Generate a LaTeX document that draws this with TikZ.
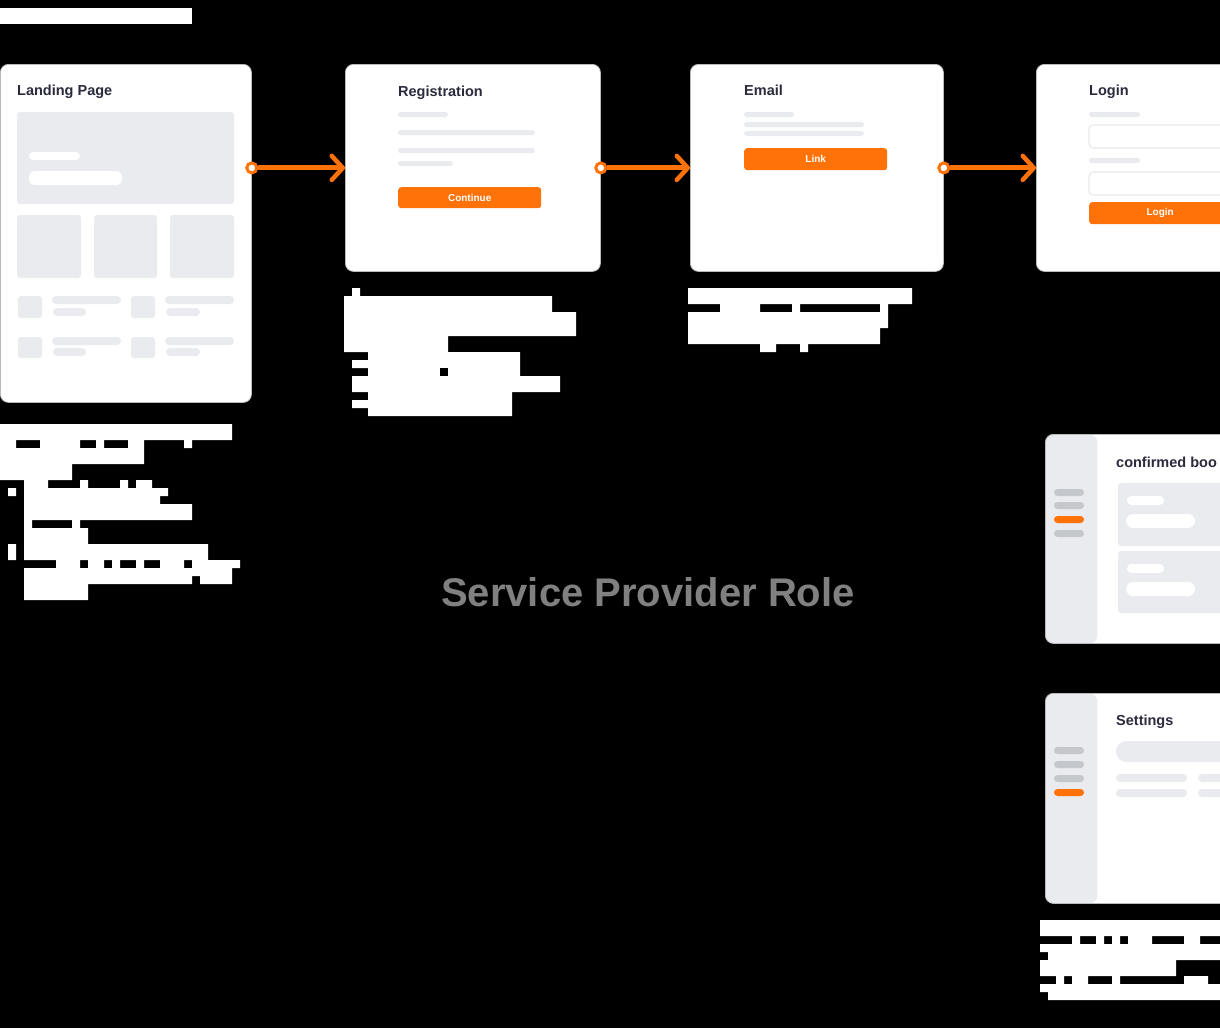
\documentclass[tikz,border=0pt]{standalone}
\usepackage{fontspec}
\setmainfont{Liberation Sans}
\usetikzlibrary{arrows.meta, positioning}
\definecolor{brand}{RGB}{255,114,8}
\definecolor{skel}{RGB}{233,235,239}
\definecolor{pillgray}{RGB}{196,199,204}
\definecolor{ink}{RGB}{43,43,61}
\definecolor{rolegray}{RGB}{128,128,128}
\tikzset{
  card/.style={rectangle, rounded corners=8pt, fill=white, draw=gray!55, line width=0.8pt, anchor=north west, inner sep=0pt},
  panel/.style={card, path picture={\fill[skel] (path picture bounding box.north west) rectangle ([xshift=52pt]path picture bounding box.south west);}},
  heading/.style={anchor=base west, inner sep=0pt, text=ink, font=\fontsize{14.5}{16}\selectfont\bfseries},
  skeleton/.style={fill=skel, rounded corners=3pt},
  bar/.style={fill=skel, rounded corners=2.5pt},
  button/.style={rectangle, rounded corners=3pt, fill=brand, text=white, font=\fontsize{10}{12}\selectfont\bfseries, anchor=north west, inner sep=0pt},
  field/.style={draw=skel, line width=1.2pt, rounded corners=4pt, fill=white},
  port/.style={circle, draw=brand, fill=white, line width=3pt, minimum size=10pt, inner sep=0pt},
  flow/.style={draw=brand, line width=5pt, -{Straight Barb[length=11pt,width=24pt,line width=4.5pt,round]}},
  redacted/.style={fill=white},
}
\begin{document}
\begin{tikzpicture}[x=1pt,y=-1pt]
\fill[black] (0,0) rectangle (1220,1028);
\useasboundingbox (0,0) rectangle (1220,1028);
\clip (0,0) rectangle (1220,1028);

% cards
\node[card, minimum width=251pt, minimum height=338pt] (landing) at (0,64) {};
\node[card, minimum width=255pt, minimum height=207pt] (registration) at (345,64) {};
\node[card, minimum width=253pt, minimum height=207pt] (email) at (690,64) {};
\node[card, minimum width=260pt, minimum height=207pt] (login) at (1036,64) {};
\node[panel, minimum width=260pt, minimum height=209pt] (bookings) at (1045,434) {};
\node[panel, minimum width=260pt, minimum height=210pt] (settings) at (1045,693) {};

% landing page
\node[heading] (landingtitle) at (17,95) {Landing Page};
\fill[skeleton] (17,112) rectangle (234,204);
\fill[white, rounded corners=4pt] (29,152) rectangle (80,160);
\fill[white, rounded corners=6pt] (29,171) rectangle (122,185);
\fill[skeleton] (17,215) rectangle (81,278) (94,215) rectangle (157,278) (170,215) rectangle (234,278);
\fill[skeleton] (18,296) rectangle (42,318) (131,296) rectangle (155,318)
                (18,337) rectangle (42,358) (131,337) rectangle (155,358);
\fill[skel, rounded corners=4pt] (52,296) rectangle (121,304) (53,308) rectangle (86,316)
                (165,296) rectangle (234,304) (166,308) rectangle (200,316)
                (52,337) rectangle (121,345) (53,348) rectangle (86,356)
                (165,337) rectangle (234,345) (166,348) rectangle (200,356);

% registration
\node[heading] (registrationtitle) at (398,96) {Registration};
\fill[bar] (398,112) rectangle (448,117) (398,130) rectangle (535,135)
           (398,148) rectangle (535,153) (398,161) rectangle (453,166);
\node[button, minimum width=143pt, minimum height=21pt] (continue) at (398,187) {Continue};

% email
\node[heading] (emailtitle) at (744,95) {Email};
\fill[bar] (744,112) rectangle (794,117) (744,122) rectangle (864,127) (744,131) rectangle (864,136);
\node[button, minimum width=143pt, minimum height=22pt] (link) at (744,148) {Link};

% login
\node[heading] (logintitle) at (1089,95) {Login};
\fill[bar] (1089,112) rectangle (1140,117) (1089,158) rectangle (1140,163);
\draw[field] (1089,125) rectangle (1231,148);
\draw[field] (1089,172) rectangle (1231,195);
\node[button, minimum width=142pt, minimum height=22pt] (loginbutton) at (1089,202) {Login};

% confirmed bookings
\node[heading] (bookingstitle) at (1116,467) {confirmed boo};
\fill[pillgray, rounded corners=3.5pt] (1054,489) rectangle (1084,496) (1054,502) rectangle (1084,509) (1054,530) rectangle (1084,537);
\fill[brand, rounded corners=3.5pt] (1054,516) rectangle (1084,523);
\fill[skeleton] (1118,483) rectangle (1300,546) (1118,551) rectangle (1300,613);
\fill[white, rounded corners=4.5pt] (1127,496) rectangle (1164,505) (1127,564) rectangle (1164,573);
\fill[white, rounded corners=7pt] (1126,514) rectangle (1195,528) (1126,582) rectangle (1195,596);

% settings
\node[heading] (settingstitle) at (1116,725) {Settings};
\fill[pillgray, rounded corners=3.5pt] (1054,747) rectangle (1084,754) (1054,761) rectangle (1084,768) (1054,775) rectangle (1084,782);
\fill[brand, rounded corners=3.5pt] (1054,789) rectangle (1084,796);
\fill[skel, rounded corners=10.5pt] (1116,741) rectangle (1300,762);
\fill[skel, rounded corners=4pt] (1116,774) rectangle (1187,782) (1116,789) rectangle (1187,797)
                (1198,774) rectangle (1300,782) (1198,789) rectangle (1300,797);

% connectors
\node[port] (p1) at (landing.east |- registration.west) {};
\node[port] (p2) at (registration.east |- email.west) {};
\node[port] (p3) at (email.east |- login.west) {};
\draw[flow] (p1) -- (registration.west);
\draw[flow] (p2) -- (email.west);
\draw[flow] (p3) -- (login.west);

% role caption
\node[text=rolegray, font=\fontsize{40}{44}\selectfont\bfseries] (role) at (648,592) {Service Provider Role};

% redacted notes
\fill[redacted] (0,8) rectangle (192,24);
\fill[redacted] (0,424) rectangle (232,440) (0,440) rectangle (16,448) (40,440) rectangle (80,448)
  (96,440) rectangle (104,448) (128,440) rectangle (144,448) (184,440) rectangle (192,448)
  (0,448) rectangle (144,464) (0,464) rectangle (72,480)
  (24,480) rectangle (48,488) (80,480) rectangle (88,488) (120,480) rectangle (128,488) (136,480) rectangle (152,488)
  (8,488) rectangle (16,496) (24,488) rectangle (168,496) (24,496) rectangle (160,504) (24,504) rectangle (192,520)
  (24,520) rectangle (32,528) (72,520) rectangle (80,528) (24,528) rectangle (88,544)
  (8,544) rectangle (16,560) (24,544) rectangle (208,560)
  (56,560) rectangle (80,568) (88,560) rectangle (104,568) (112,560) rectangle (120,568)
  (136,560) rectangle (144,568) (160,560) rectangle (184,568) (192,560) rectangle (240,568)
  (24,568) rectangle (232,576) (24,576) rectangle (192,584) (200,576) rectangle (232,584)
  (24,584) rectangle (88,600);
\fill[redacted] (352,288) rectangle (360,296) (344,296) rectangle (552,312) (344,312) rectangle (576,336)
  (344,336) rectangle (448,352) (368,352) rectangle (520,376) (352,360) rectangle (368,368)
  (352,376) rectangle (560,392) (368,392) rectangle (512,416) (352,400) rectangle (368,408);
\fill[black] (440,368) rectangle (448,376);
\fill[redacted] (688,288) rectangle (912,304) (720,304) rectangle (760,312) (792,304) rectangle (800,312)
  (880,304) rectangle (888,312) (688,312) rectangle (888,328) (688,328) rectangle (880,344)
  (760,344) rectangle (776,352) (800,344) rectangle (808,352);
\fill[redacted] (1040,920) rectangle (1220,936) (1072,936) rectangle (1080,944) (1096,936) rectangle (1104,944)
  (1112,936) rectangle (1120,944) (1128,936) rectangle (1152,944) (1184,936) rectangle (1200,944)
  (1040,944) rectangle (1220,952) (1048,952) rectangle (1220,960) (1040,960) rectangle (1176,976)
  (1056,976) rectangle (1064,984) (1072,976) rectangle (1088,984) (1112,976) rectangle (1120,984)
  (1184,976) rectangle (1208,984) (1040,984) rectangle (1220,992) (1048,992) rectangle (1220,1000);
\end{tikzpicture}
\end{document}
